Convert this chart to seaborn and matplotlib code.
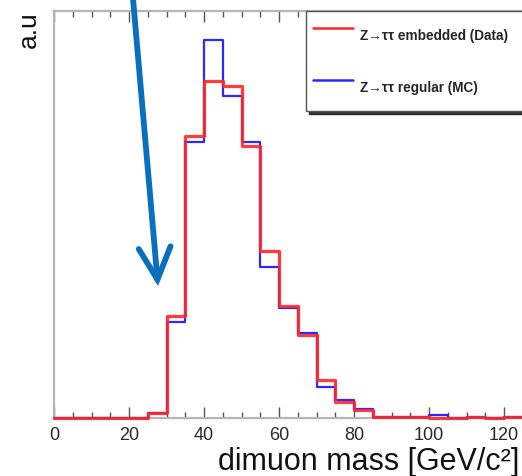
import numpy as np
import pandas as pd
import matplotlib
matplotlib.use("Agg")
import matplotlib.pyplot as plt
from matplotlib.ticker import MultipleLocator
import seaborn as sns

# ---- data (arbitrary units) ----
bin_edges = list(range(0, 130, 5))  # 0 .. 125 GeV, 5 GeV bins
embedded_data = [0, 0, 0, 0, 0, 5, 102, 282, 337, 332, 272, 167, 112, 83, 38, 16, 8,
                 1, 1, 1, 0.5, 0, 1, 0, 1]
regular_mc = [0, 0, 0, 0, 0, 5, 96, 276, 378, 322, 276, 151, 110, 85, 31, 18, 9,
              1, 1, 1, 3, 0, 1.5, 0, 1]
series_labels = ["Z\u2192\u03c4\u03c4 embedded (Data)", "Z\u2192\u03c4\u03c4 regular (MC)"]
x_ticks = [0, 20, 40, 60, 80, 100, 120]
x_label = "dimuon mass [GeV/c\u00b2]"
y_label = "a.u"

centers = [(bin_edges[i] + bin_edges[i + 1]) / 2 for i in range(len(bin_edges) - 1)]
df = pd.DataFrame({
    "mass": centers * 2,
    "weight": embedded_data + regular_mc,
    "sample": [series_labels[0]] * len(centers) + [series_labels[1]] * len(centers),
})

sns.set_theme(style="white")
plt.rcParams["font.family"] = ["Liberation Sans", "DejaVu Sans"]

W, H = 522, 477
fig = plt.figure(figsize=(W / 100, H / 100), dpi=100)
ax_left, ax_bottom_px, ax_top_px = 54, 419, 12
px_per_gev = 3.75
xmax = 150
ax = fig.add_axes([ax_left / W, (H - ax_bottom_px) / H,
                   xmax * px_per_gev / W, (ax_bottom_px - ax_top_px) / H])

# blue first, red on top
sns.histplot(data=df[df["sample"] == series_labels[1]], x="mass", weights="weight",
             bins=bin_edges, element="step", fill=False, color="#2a2aff",
             linewidth=1.6, ax=ax, label=series_labels[1], zorder=3)
sns.histplot(data=df[df["sample"] == series_labels[0]], x="mass", weights="weight",
             bins=bin_edges, element="step", fill=False, color="#ff2626",
             linewidth=2.3, alpha=0.9, ax=ax, label=series_labels[0], zorder=3.1)
for art in ax.lines + ax.patches:
    art.set_clip_on(False)

ax.set_xlim(0, xmax)
ax.set_ylim(0, ax_bottom_px - ax_top_px)

for side in ["left", "bottom", "top", "right"]:
    ax.spines[side].set_color("#b5b5b5")
    ax.spines[side].set_linewidth(1.6)
ax.spines["right"].set_visible(False)

ax.xaxis.set_major_locator(MultipleLocator(20))
ax.xaxis.set_minor_locator(MultipleLocator(5))
ax.set_xticks(x_ticks)
ax.set_xticklabels([str(t) for t in x_ticks])
ax.tick_params(axis="x", which="major", direction="in", top=True, bottom=True,
               length=8, width=1.0, color="#555555", labelsize=13,
               labelcolor="#2a2a2a", pad=6)
ax.tick_params(axis="x", which="minor", direction="in", top=True, bottom=True,
               length=4.5, width=1.0, color="#555555")
ax.tick_params(axis="y", left=False, labelleft=False)
ax.set_ylabel("")

ax.set_xlabel(x_label, fontsize=22, color="#111111")
ax.xaxis.set_label_coords((218 - ax_left) / (xmax * px_per_gev),
                          (ax_bottom_px - 470) / (ax_bottom_px - ax_top_px))
ax.xaxis.label.set_horizontalalignment("left")
ax.xaxis.label.set_verticalalignment("baseline")

fig.text(29 / W, 1 - 11 / H, y_label, rotation=90, ha="center", va="top",
         fontsize=19, color="#111111")

# legend (red entry first)
handles, labels = ax.get_legend_handles_labels()
order = [labels.index(series_labels[0]), labels.index(series_labels[1])]
leg = ax.legend([handles[i] for i in order], [labels[i] for i in order],
                loc="upper left", bbox_to_anchor=(306 / W, 0, 300 / W, 1 - 12 / H),
                bbox_transform=fig.transFigure, mode="expand",
                prop={"family": "Liberation Sans", "weight": "bold", "size": 9.8},
                frameon=True, fancybox=False, borderpad=0.5, handleheight=3.5,
                labelspacing=1.3, handlelength=2.95, handletextpad=0.5,
                borderaxespad=0, shadow={"ox": 2, "oy": -2.5, "color": "#222222", "alpha": 0.9})
leg.get_frame().set_edgecolor("#555555")
leg.get_frame().set_linewidth(1.0)
leg.get_frame().set_facecolor("white")
leg.get_frame().set_alpha(1)
leg.set_zorder(5)
for line in leg.get_lines():
    line.set_linewidth(1.8)
    line.set_alpha(1)

# blue annotation arrow
ax.annotate("", xy=(158, H - 287), xytext=(132.5, H + 6),
            xycoords="figure pixels", textcoords="figure pixels",
            arrowprops=dict(arrowstyle="->,head_length=2.3,head_width=1.15",
                            mutation_scale=10, lw=4.2, color="#0b6fc0",
                            shrinkA=0, shrinkB=0, capstyle="round",
                            joinstyle="miter"),
            annotation_clip=False)

fig.savefig("out.png", dpi=100)
